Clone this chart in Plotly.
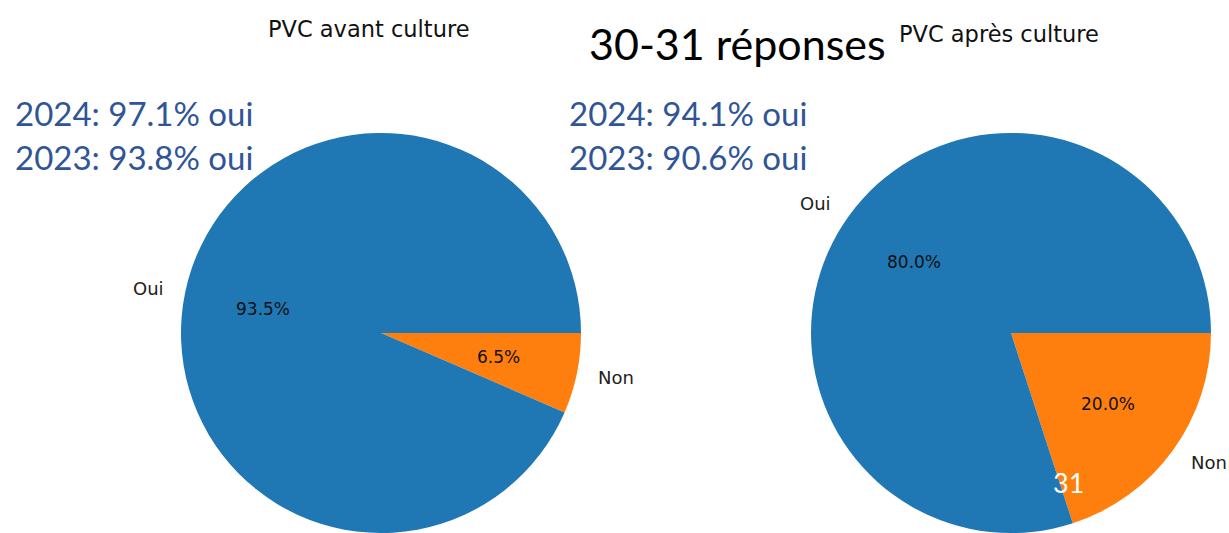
# Pie charts: PVC avant / après culture (30-31 réponses)
import numpy as np
import plotly.graph_objects as go

# ==============================================================================
# DATA
# ==============================================================================

LABELS = ['Oui', 'Non']
AVANT_VALUES = [93.5, 6.5]
APRES_VALUES = [80.0, 20.0]
COLORS = ['#1f77b4', '#ff7f0e']

TITLE_AVANT = 'PVC avant culture'
TITLE_APRES = 'PVC après culture'
MAIN_TITLE = '30-31 réponses'
HISTORY_AVANT = ['2024: 97.1% oui', '2023: 93.8% oui']
HISTORY_APRES = ['2024: 94.1% oui', '2023: 90.6% oui']
FOOTNOTE = '31'

# ==============================================================================
# LAYOUT PARAMETERS
# ==============================================================================

W, H = 1229, 533
PIE_AVANT = dict(cx=381, top=133, r=201)
PIE_APRES = dict(cx=1011, top=133, r=203)

LABEL_DIST = 1.1   # matplotlib-style label distance
PCT_DIST = 0.6     # matplotlib-style pct distance
MPL_FONT = 'DejaVu Sans'
SLIDE_FONT = 'Lato, Carlito, Calibri, sans-serif'
SLIDE_BLUE = '#2F5597'


def pie_domain(p):
    x0 = (p['cx'] - p['r']) / W
    x1 = (p['cx'] + p['r']) / W
    y1 = (H - p['top']) / H
    return dict(x=[x0, x1], y=[0, y1])


def pie_annotations(p, values):
    """Labels and percentages placed like matplotlib's autopct."""
    dom = pie_domain(p)
    rad = min((dom['x'][1] - dom['x'][0]) * W, (dom['y'][1] - dom['y'][0]) * H) / 2
    cx = (dom['x'][0] + dom['x'][1]) / 2 * W
    cy = H - (dom['y'][0] + dom['y'][1]) / 2 * H
    total = sum(values)
    anns = []
    start = 0.0
    for lab, v in zip(LABELS, values):
        theta = np.deg2rad(start + 360 * v / total / 2)
        start += 360 * v / total
        lx = cx + LABEL_DIST * rad * np.cos(theta)
        ly = cy - LABEL_DIST * rad * np.sin(theta)
        anns.append(dict(
            x=lx / W, y=1 - ly / H, xref='paper', yref='paper',
            text=lab, showarrow=False,
            xanchor='left' if np.cos(theta) > 0 else 'right', yanchor='middle',
            font=dict(family=MPL_FONT, size=18, color='#222222')
        ))
        px = cx + PCT_DIST * rad * np.cos(theta)
        py = cy - PCT_DIST * rad * np.sin(theta)
        anns.append(dict(
            x=px / W, y=1 - py / H, xref='paper', yref='paper',
            text=f'{v / total * 100:.1f}%', showarrow=False,
            xanchor='center', yanchor='middle',
            font=dict(family=MPL_FONT, size=17, color='#111111')
        ))
    return anns


fig = go.Figure()

# matplotlib default: first slice starts at 3 o'clock and runs counterclockwise.
# plotly's counterclockwise mode ends the first slice at `rotation`, so feed the
# slices in reverse order to get the same layout.
for p, vals in [(PIE_AVANT, AVANT_VALUES), (PIE_APRES, APRES_VALUES)]:
    fig.add_trace(go.Pie(
        labels=LABELS[::-1], values=vals[::-1],
        marker=dict(colors=COLORS[::-1], line=dict(width=0)),
        sort=False, direction='counterclockwise', rotation=90,
        textinfo='none', hoverinfo='label+percent',
        domain=pie_domain(p), showlegend=False
    ))

annotations = []
annotations += pie_annotations(PIE_AVANT, AVANT_VALUES)
annotations += pie_annotations(PIE_APRES, APRES_VALUES)

# subplot titles (matplotlib style)
annotations.append(dict(x=369 / W, y=1 - 29 / H, xref='paper', yref='paper',
                        text=TITLE_AVANT, showarrow=False, xanchor='center', yanchor='middle',
                        font=dict(family=MPL_FONT, size=22.5, color='#111111')))
annotations.append(dict(x=999 / W, y=1 - 34 / H, xref='paper', yref='paper',
                        text=TITLE_APRES, showarrow=False, xanchor='center', yanchor='middle',
                        font=dict(family=MPL_FONT, size=22.5, color='#111111')))

# slide text
annotations.append(dict(x=737 / W, y=1 - 43 / H, xref='paper', yref='paper',
                        text=MAIN_TITLE, showarrow=False, xanchor='center', yanchor='middle',
                        font=dict(family=SLIDE_FONT, size=43, color='#000000')))

for x0, lines in [(13, HISTORY_AVANT), (567, HISTORY_APRES)]:
    for i, t in enumerate(lines):
        annotations.append(dict(x=x0 / W, y=1 - (113 + 44 * i) / H, xref='paper', yref='paper',
                                text=t, showarrow=False, xanchor='left', yanchor='middle',
                                font=dict(family=SLIDE_FONT, size=33, color=SLIDE_BLUE)))

annotations.append(dict(x=1068 / W, y=1 - 482 / H, xref='paper', yref='paper',
                        text=FOOTNOTE, showarrow=False, xanchor='center', yanchor='middle',
                        font=dict(family=SLIDE_FONT, size=27, color='#ffffff')))

fig.update_layout(
    width=W, height=H,
    margin=dict(l=0, r=0, t=0, b=0),
    paper_bgcolor='white', plot_bgcolor='white',
    annotations=annotations
)

# drop the browser's default 8px body margin so the figure fills the window
fig.write_html('out.html', config={'displayModeBar': False},
               post_script="document.body.style.margin='0';")
